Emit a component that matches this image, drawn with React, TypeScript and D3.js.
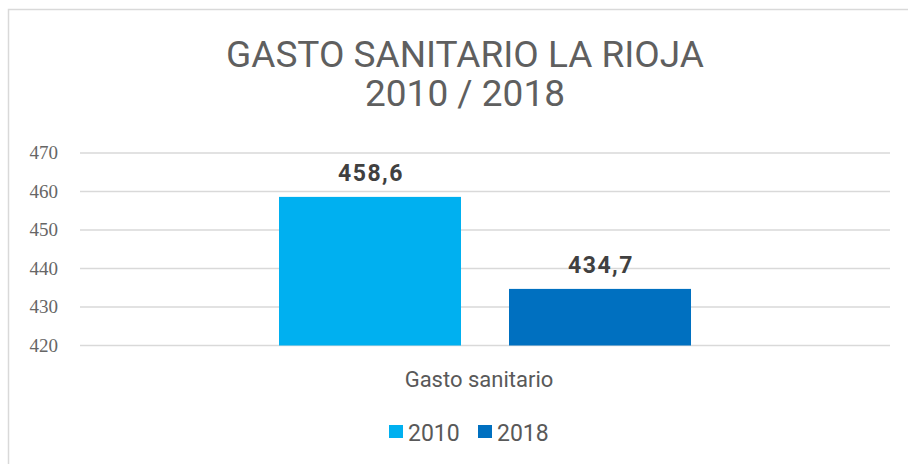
import React from "react";
import * as d3 from "d3";

const categories = ["Gasto sanitario"];
const seriesNames = ["2010", "2018"];
const values2010 = [458.6];
const values2018 = [434.7];
const seriesColors = ["#00B0F0", "#0070C0"];
const yTicks = [420, 430, 440, 450, 460, 470];

const W = 908;
const H = 464;

export default function App() {
  const x0 = d3.scaleBand<string>().domain(categories).range([80, 890]).paddingInner(0).paddingOuter(0.483);
  const x1 = d3.scaleBand<string>().domain(seriesNames).range([0, x0.bandwidth()]).paddingInner(0.2087).paddingOuter(0);
  const y = d3.scaleLinear().domain([420, 470]).range([345.5, 153]);
  const seriesValues = [values2010, values2018];
  const fmt = (v: number) => d3.format(".1f")(v).replace(".", ",");

  return (
    <svg width={W} height={H} style={{ position: "absolute", left: 0, top: 0, display: "block" }}>
      <rect x={0} y={0} width={W} height={H} fill="#fff" />
      <rect x={8.5} y={9.5} width={W + 10} height={H + 10} fill="#fff" stroke="#d9d9d9" strokeWidth={1.5} />
      <text x={465} y={67} textAnchor="middle" fontFamily="Roboto" fontSize={37} fill="#5f5f5f">GASTO SANITARIO LA RIOJA</text>
      <text x={465} y={106} textAnchor="middle" fontFamily="Roboto" fontSize={37} fill="#5f5f5f">2010 / 2018</text>
      {yTicks.map((t) => (
        <g key={t}>
          <line x1={80} x2={890} y1={y(t)} y2={y(t)} stroke="#d9d9d9" strokeWidth={1.5} />
          <text x={58} y={y(t) + 6} textAnchor="end" fontFamily="Liberation Serif" fontSize={19} fill="#666666">{t}</text>
        </g>
      ))}
      {categories.map((c, ci) => (
        <g key={c}>
          {seriesNames.map((s, si) => {
            const v = seriesValues[si][ci];
            const bx = (x0(c) ?? 0) + (x1(s) ?? 0);
            return (
              <g key={s}>
                <rect x={bx} y={y(v)} width={x1.bandwidth()} height={y(420) - y(v)} fill={seriesColors[si]} />
                <text x={bx + x1.bandwidth() / 2 + 1} y={y(v) - 16} textAnchor="middle" fontFamily="Roboto" fontWeight="bold" fontSize={23} fill="#404040" letterSpacing={1.5}>{fmt(v)}</text>
              </g>
            );
          })}
          <text x={(x0(c) ?? 0) + x0.bandwidth() / 2 - 6} y={387} textAnchor="middle" fontFamily="Roboto" fontSize={22} fill="#595959">{c}</text>
        </g>
      ))}
      {seriesNames.map((s, si) => {
        const lx = [389, 478][si];
        return (
          <g key={s}>
            <rect x={lx} y={425} width={14} height={13} fill={seriesColors[si]} />
            <text x={lx + 19} y={441} fontFamily="Roboto" fontSize={23} fill="#595959">{s}</text>
          </g>
        );
      })}
    </svg>
  );
}
